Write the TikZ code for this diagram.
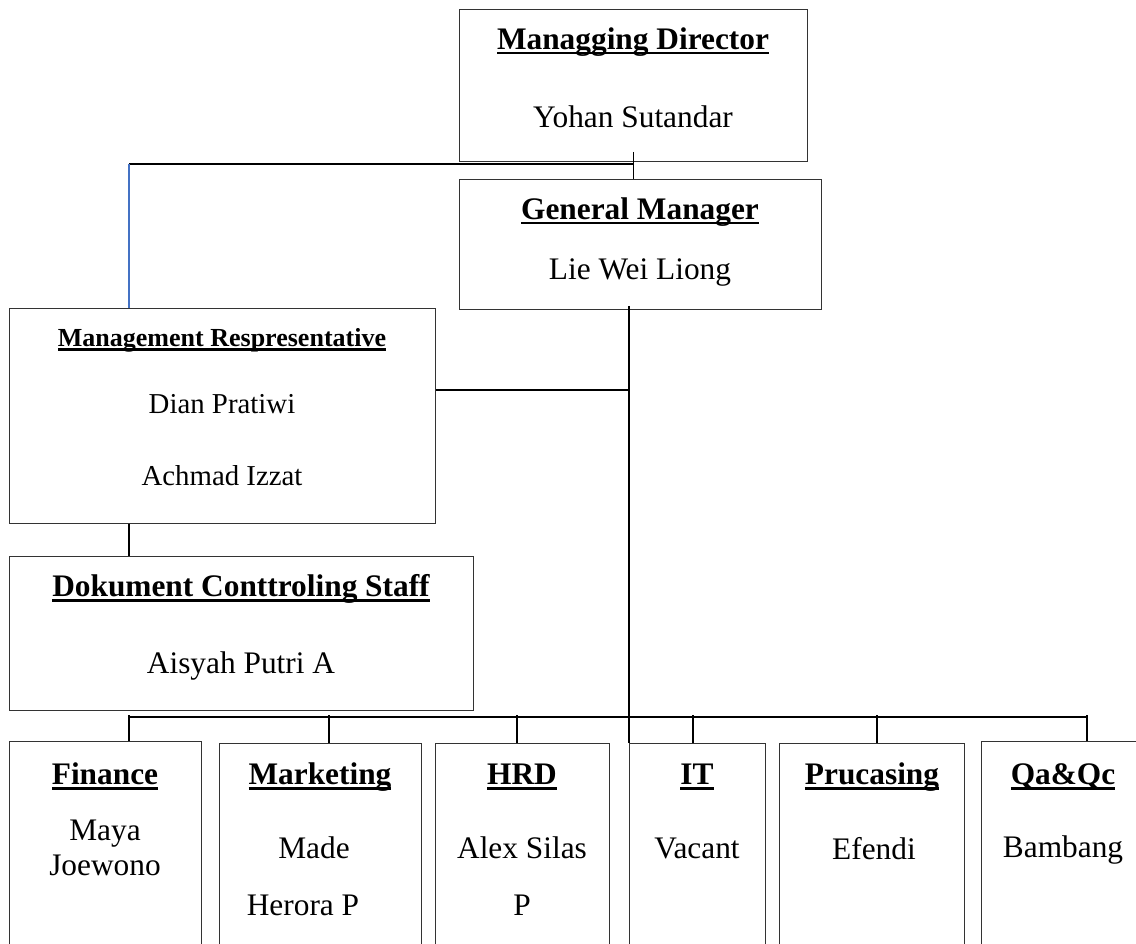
\documentclass[tikz,border=0pt]{standalone}
\usepackage{fontspec}
\setmainfont{Liberation Serif}
\usetikzlibrary{calc}
\definecolor{mrblue}{RGB}{68,114,196}

% underline in the Word manner: rule through the descenders
\newcommand{\ul}[1]{\setbox0\hbox{#1}\rlap{\rule[-0.175em]{\wd0}{0.09em}}\box0}

\begin{document}
\begin{tikzpicture}[x=0.025cm,y=-0.025cm,
  box/.style={draw=black!80, line width=0.7pt, anchor=north west, inner sep=0pt},
  wh/.style 2 args={minimum width=#1*0.025cm, minimum height=#2*0.025cm},
  lbl/.style={anchor=base, inner sep=0pt, font=\fontsize{22.3}{26}\selectfont},
  ttl/.style={anchor=base, inner sep=0pt, font=\fontsize{22.3}{26}\selectfont\bfseries},
  link/.style={line width=1pt}]
\useasboundingbox (0,0) rectangle (1136,943);
\clip (0,0) rectangle (1136,943);

% boxes
\node[box, wh={348}{152}] (md) at (459,9) {};
\node[box, wh={362}{130}] (gm) at (459,179) {};
\node[box, wh={426}{215}] (mr) at (9,308) {};
\node[box, wh={464}{154}] (dcs) at (9,556) {};
\foreach \n/\x/\y/\w in {fin/9/741/192, mkt/219/743/202, hrd/435/743/174,
                         it/629/743/136, pru/779/743/185, qa/981/741/164}
{	\node[box, wh={\w}{240}] (\n) at (\x,\y) {};
}

% texts
\node[ttl] (md-t) at (633,49) {\ul{Managging Director}};
\node[lbl] (md-n) at (633,127) {Yohan Sutandar};
\node[ttl] (gm-t) at (640,219) {\ul{General Manager}};
\node[lbl] (gm-n) at (640,279) {Lie Wei Liong};
\node[ttl, font=\fontsize{18.5}{22}\selectfont\bfseries] (mr-t) at (222,346) {\ul{Management Respresentative}};
\node[lbl, font=\fontsize{20.5}{24}\selectfont] (mr-n1) at (222,413) {Dian Pratiwi};
\node[lbl, font=\fontsize{20.5}{24}\selectfont] (mr-n2) at (222,485) {Achmad Izzat};
\node[ttl] (dcs-t) at (241,596) {\ul{Dokument Conttroling Staff}};
\node[lbl] (dcs-n) at (241,673) {Aisyah Putri A};
\foreach \n/\x/\t in {fin/105/Finance, mkt/320/Marketing, hrd/522/HRD,
                      it/697/IT, pru/872/Prucasing, qa/1063/Qa\&Qc}
{	\node[ttl] (\n-t) at (\x,784) {\ul{\t}};
}
\node[lbl] (fin-n1) at (105,840) {Maya};
\node[lbl] (fin-n2) at (105,875) {Joewono};
\node[lbl] (mkt-n1) at (314,858) {Made};
\node[lbl] (mkt-n2) at (303,915) {Herora P};
\node[lbl] (hrd-n1) at (522,858) {Alex Silas};
\node[lbl] (hrd-n2) at (522,915) {P};
\node[lbl] (it-n) at (697,858) {Vacant};
\node[lbl] (pru-n) at (874,859) {Efendi};
\node[lbl] (qa-n) at (1063,857) {Bambang};

% connectors
\coordinate (mrtop) at ([xshift=3cm]mr.north west);
\coordinate (j1) at ([yshift=-0.05cm]md.south);
\coordinate (mrr) at ([yshift=-2.05cm]mr.north east);
\coordinate (bus) at (mrtop |- 0,717);
\draw[link] ([yshift=0.25cm]md.south) -- (md.south |- gm.north);
\draw[link] (j1) -- (j1 -| mrtop);
\draw[line width=0.8pt, mrblue] (j1 -| mrtop) -- (mrtop);
\draw[link] ([yshift=0.1cm]gm.south -| it.north west) -- (it.north west);
\draw[link] (mrr) -- (mrr -| it.north west);
\draw[link] (mrtop |- mr.south) -- (mrtop |- dcs.north);
\draw[link] (bus) -- (1087,717);
\foreach \n/\d in {fin/129, mkt/329, hrd/517, it/693, pru/877, qa/1087}
{	\draw[link] (\d,715) -- (\d,0 |- \n.north);
}
\end{tikzpicture}
\end{document}
